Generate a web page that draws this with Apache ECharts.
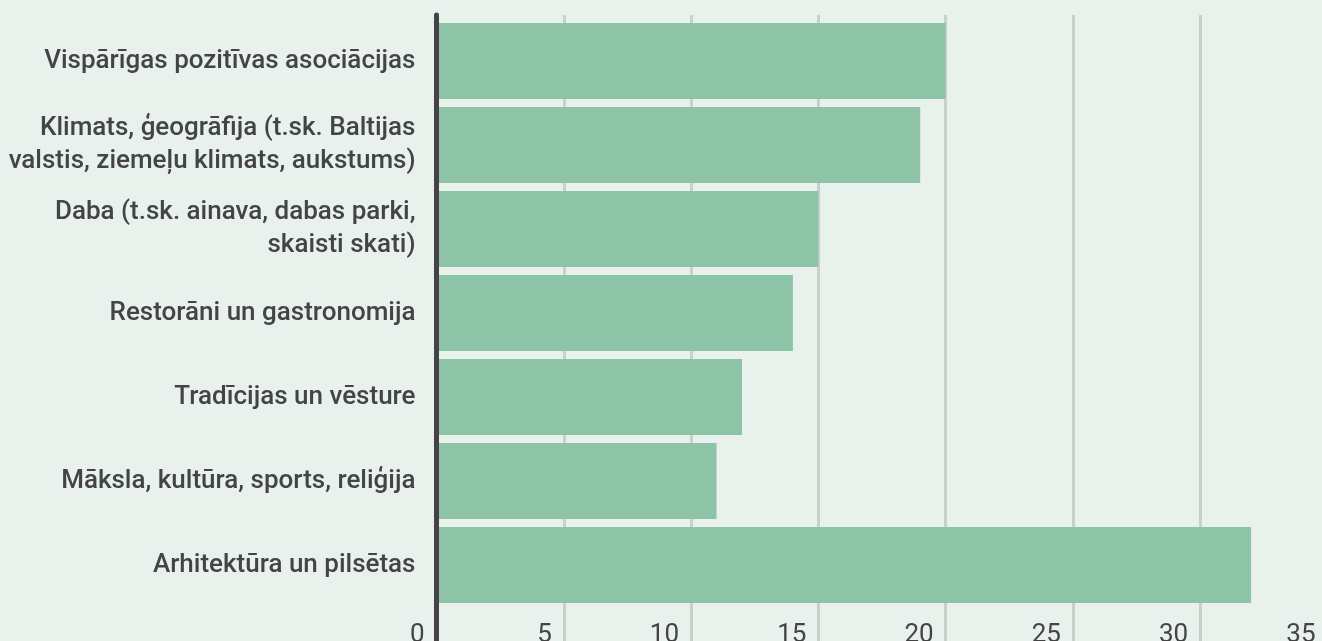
<!DOCTYPE html>
<html>
<head>
<meta charset="utf-8">
<script src="https://cdn.jsdelivr.net/npm/echarts@6/dist/echarts.min.js"></script>
<style>
  html, body { margin: 0; padding: 0; background: #e8f1ec; }
  #chart { width: 1322px; height: 641px; }
</style>
</head>
<body>
<div id="chart"></div>
<script>
  // data
  var categories = [
    "Vispārīgas pozitīvas asociācijas",
    "Klimats, ģeogrāfija (t.sk. Baltijas\nvalstis, ziemeļu klimats, aukstums)",
    "Daba (t.sk. ainava, dabas parki,\nskaisti skati)",
    "Restorāni un gastronomija",
    "Tradīcijas un vēsture",
    "Māksla, kultūra, sports, reliģija",
    "Arhitektūra un pilsētas"
  ];
  var values = [20, 19, 15, 14, 12, 11, 32];
  var xTicks = [0, 35, 5]; // min, max, interval

  var textColor = "#444444";
  var chart = echarts.init(document.getElementById("chart"));

  chart.setOption({
    backgroundColor: "#e8f1ec",
    textStyle: { fontFamily: "Roboto" },
    grid: [
      // axes + split lines, runs off the canvas at right and bottom
      { left: 436.5, width: 891, top: 15, height: 637, outerBoundsMode: "none" },
      // bars
      { left: 436.5, width: 891, top: 19, bottom: 34, outerBoundsMode: "none" }
    ],
    xAxis: [
      {
        type: "value",
        gridIndex: 0,
        min: xTicks[0],
        max: xTicks[1],
        interval: xTicks[2],
        axisLine: { show: false },
        axisTick: { show: false },
        splitLine: { lineStyle: { color: "#c9d0cb", width: 3 } },
        axisLabel: {
          inside: true,
          margin: 4,
          align: "right",
          padding: [0, 12, 0, 0],
          color: textColor,
          fontSize: 26,
          fontFamily: "Roboto"
        }
      },
      {
        type: "value",
        gridIndex: 1,
        min: xTicks[0],
        max: xTicks[1],
        show: false
      }
    ],
    yAxis: [
      {
        type: "value",
        gridIndex: 0,
        z: 5,
        axisLine: { show: true, lineStyle: { color: "#444444", width: 5 } },
        axisTick: { show: false },
        axisLabel: { show: false },
        splitLine: { show: false }
      },
      {
        type: "category",
        gridIndex: 1,
        inverse: true,
        data: categories,
        axisLine: { show: false },
        axisTick: { show: false },
        axisLabel: {
          margin: 21,
          color: textColor,
          fontSize: 26,
          fontWeight: 500,
          lineHeight: 33,
          fontFamily: "Roboto",
          align: "right"
        }
      }
    ],
    series: [
      {
        type: "bar",
        xAxisIndex: 1,
        yAxisIndex: 1,
        data: values,
        barCategoryGap: "9.5%",
        itemStyle: { color: "#8dc4a8" },
        animation: false
      }
    ]
  });
</script>
</body>
</html>
